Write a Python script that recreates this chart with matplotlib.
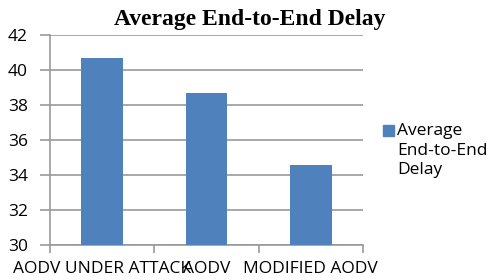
import matplotlib
matplotlib.use("Agg")
import matplotlib.pyplot as plt

categories = ["AODV UNDER ATTACK", "AODV", "MODIFIED AODV"]
delay = [40.7, 38.7, 34.6]
yticks = [30, 32, 34, 36, 38, 40, 42]

bar_color = "#4F81BD"
grid_color = "#9a9a9a"
fs = 12.5

fig = plt.figure(figsize=(4.87, 2.8), dpi=100)
ax = fig.add_axes([50 / 487, 35 / 280, 313 / 487, 210 / 280])

x = list(range(len(categories)))
ax.bar(x, delay, width=0.4, color=bar_color, zorder=3)

ax.set_xlim(-0.5, len(categories) - 0.5)
ax.set_ylim(30, 42)
ax.set_yticks(yticks)
ax.set_yticklabels([str(t) for t in yticks], fontsize=fs, family="Open Sans")
ax.yaxis.grid(True, color=grid_color, linewidth=1.2, zorder=0)
ax.tick_params(axis="y", length=7, color=grid_color, width=1.2, pad=9)

# category labels centered, tick marks at the boundaries
ax.set_xticks([-0.5, 0.5, 1.5, 2.5])
ax.set_xticklabels([])
ax.tick_params(axis="x", length=6, color=grid_color, width=1.2)
for xi, lab in zip(x, categories):
    ax.text(xi, -0.075, lab, transform=ax.get_xaxis_transform(),
            ha="center", va="top", fontsize=fs, family="Open Sans")

for side in ["top", "right"]:
    ax.spines[side].set_visible(False)
for side in ["left", "bottom"]:
    ax.spines[side].set_color(grid_color)
    ax.spines[side].set_linewidth(1.2)

fig.text(250 / 487, 1 - 20 / 280, "Average End-to-End Delay", ha="center", va="center",
         fontsize=17, fontweight="bold", family="Liberation Serif")

# legend drawn by hand so the text can run off the edge like the original
fig.patches.append(plt.Rectangle((383 / 487, 1 - 136 / 280), 11 / 487, 11 / 280,
                                 transform=fig.transFigure, color=bar_color))
fig.text(397 / 487, 1 - 123 / 280, "Average\nEnd-to-End\nDelay", ha="left", va="top",
         fontsize=fs, family="Open Sans", linespacing=1.3)

fig.savefig("out.png", dpi=100)
